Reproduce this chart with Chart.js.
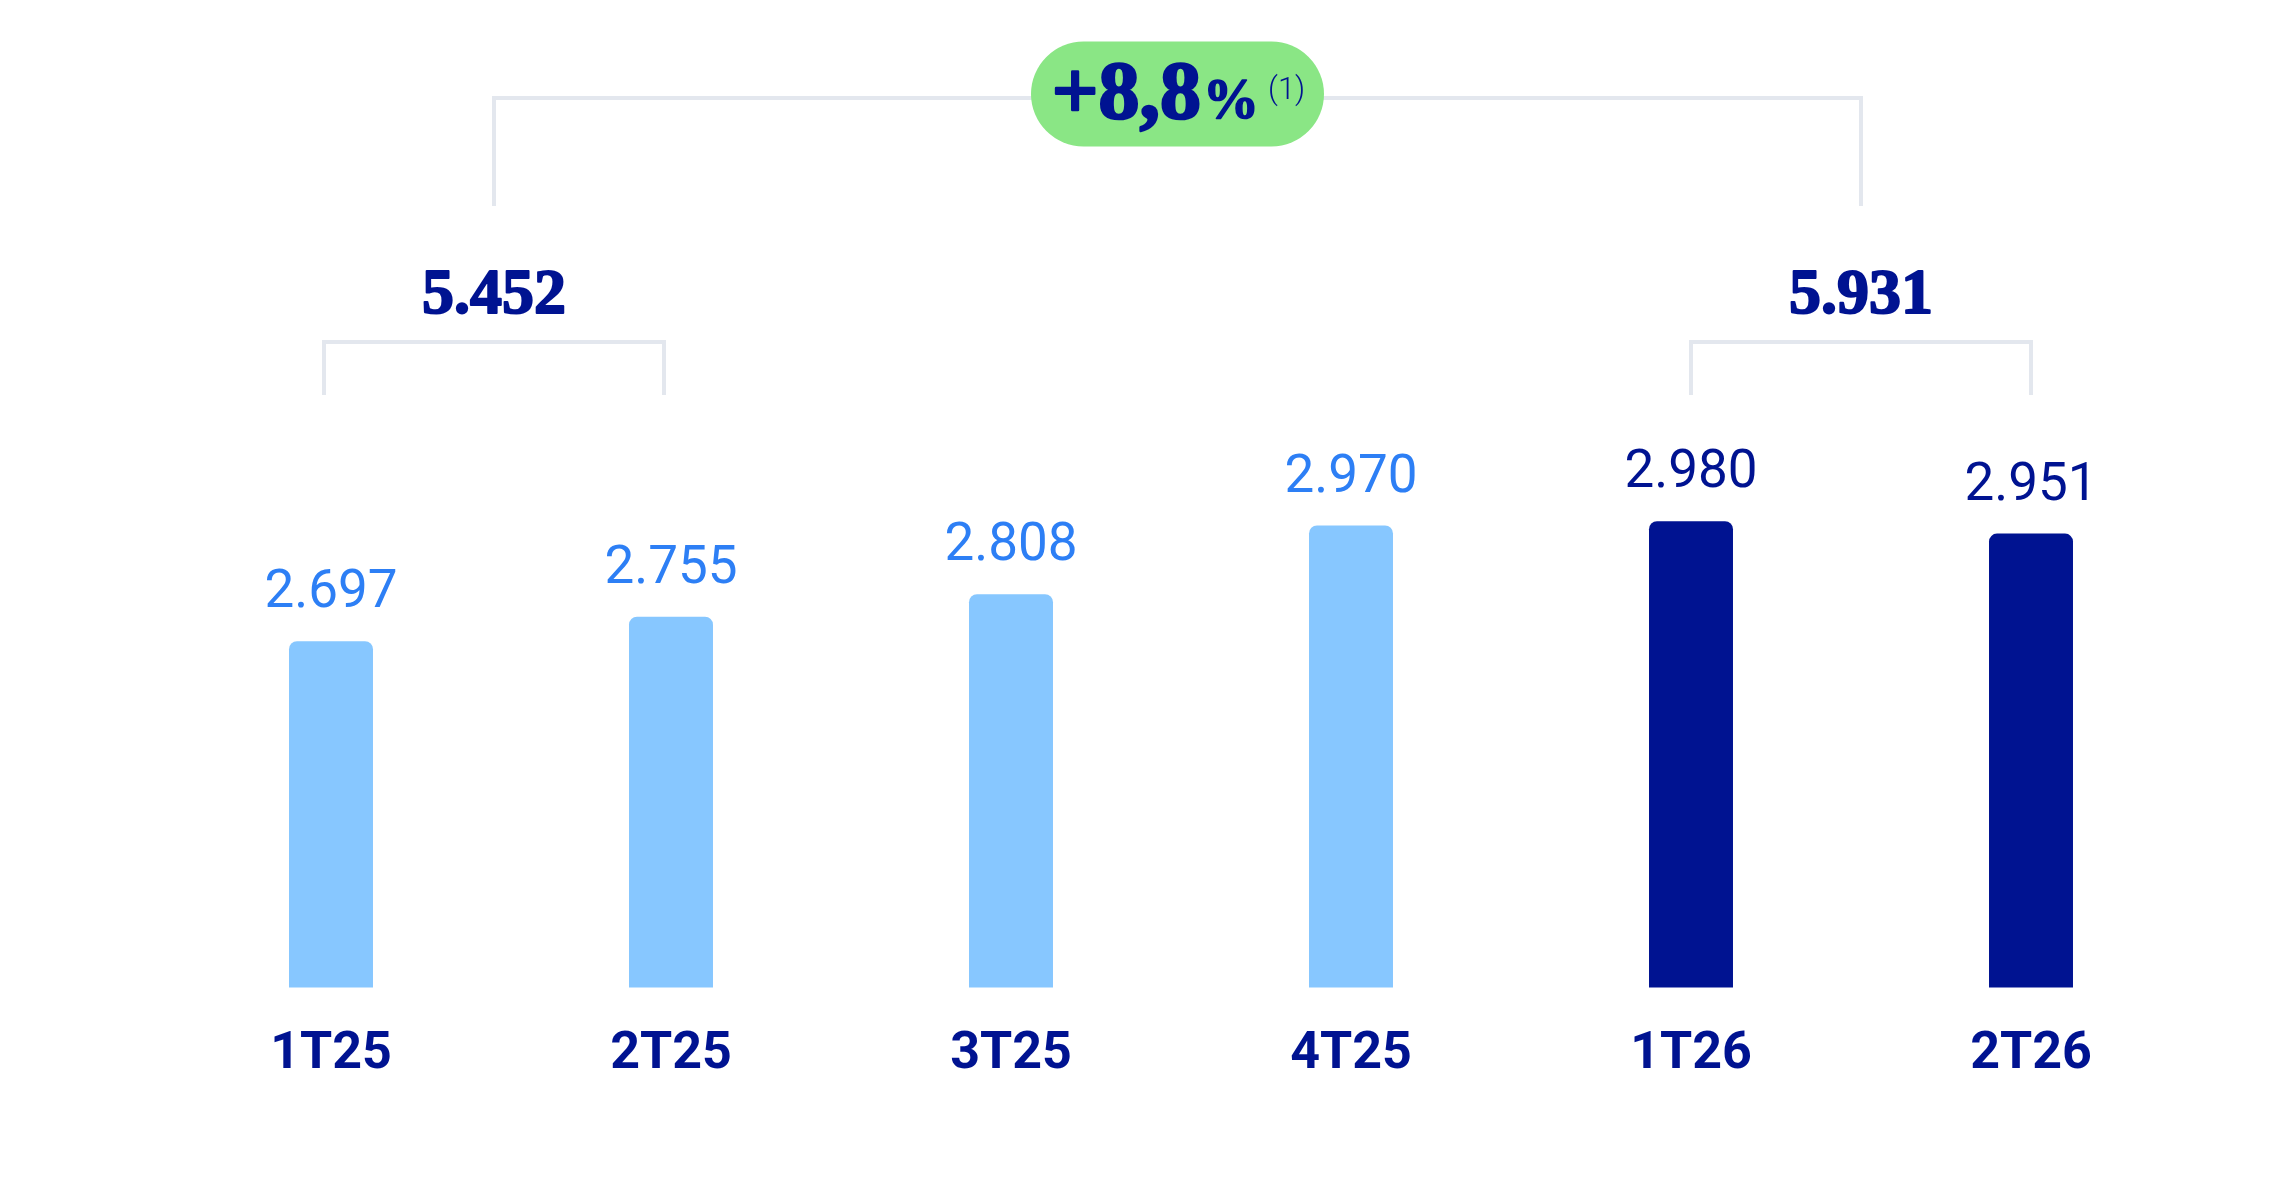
<!DOCTYPE html>
<html>
<head>
<meta charset="utf-8">
<script src="https://cdn.jsdelivr.net/npm/chart.js@4.4.1/dist/chart.umd.min.js"></script>
<style>
  html, body { margin: 0; padding: 0; background: #fff; }
  #wrap { width: 2292px; height: 1188px; }
</style>
</head>
<body>
<div id="wrap"><canvas id="chart" width="2292" height="1188"></canvas></div>
<script>
var quarters = ['1T25', '2T25', '3T25', '4T25', '1T26', '2T26'];
var margin = [2697, 2755, 2808, 2970, 2980, 2951];
var marginLabels = ['2.697', '2.755', '2.808', '2.970', '2.980', '2.951'];
var halfYearTotals = ['5.452', '5.931'];
var halfYearBars = [[0, 1], [4, 5]];
var growthText = '+8,8';
var growthNote = '(1)';

var NAVY = '#001391';
var LIGHT = '#87c7ff';
var LIGHT_TEXT = '#2d7ff5';
var GREY = '#e3e7ee';
var GREEN = '#8ae685';

// 2026 quarters in navy, 2025 in light blue
var barColors = quarters.map(function (q) {
  return q.slice(-2) === '26' ? NAVY : LIGHT;
});
var labelColors = quarters.map(function (q) {
  return q.slice(-2) === '26' ? NAVY : LIGHT_TEXT;
});

// heavy serif: fill + thin stroke in the same colour
function heavyText(ctx, txt, x, y, weight) {
  ctx.lineWidth = weight;
  ctx.strokeStyle = ctx.fillStyle;
  ctx.lineJoin = 'round';
  ctx.strokeText(txt, x, y);
  ctx.fillText(txt, x, y);
}

var annotations = {
  id: 'annotations',
  afterDatasetsDraw: function (chart) {
    var ctx = chart.ctx;
    var bars = chart.getDatasetMeta(0).data;
    ctx.save();

    // values over the bars
    ctx.textAlign = 'center';
    ctx.textBaseline = 'alphabetic';
    ctx.font = '400 53px Roboto';
    bars.forEach(function (bar, i) {
      ctx.fillStyle = labelColors[i];
      ctx.fillText(marginLabels[i], bar.x, bar.y - 34);
    });

    // half year brackets + totals
    var shift = [-7, 0];
    var mids = halfYearBars.map(function (pair, k) {
      var x1 = bars[pair[0]].x + shift[k], x2 = bars[pair[1]].x + shift[k];
      ctx.strokeStyle = GREY;
      ctx.lineWidth = 4;
      ctx.lineJoin = 'miter';
      ctx.beginPath();
      ctx.moveTo(x1, 395);
      ctx.lineTo(x1, 342);
      ctx.lineTo(x2, 342);
      ctx.lineTo(x2, 395);
      ctx.stroke();
      var mid = (x1 + x2) / 2;
      ctx.fillStyle = NAVY;
      ctx.font = 'bold 64px "Liberation Serif"';
      heavyText(ctx, halfYearTotals[k], mid, 313, 2);
      return mid;
    });

    // top bracket
    ctx.strokeStyle = GREY;
    ctx.lineWidth = 4;
    ctx.lineJoin = 'miter';
    ctx.beginPath();
    ctx.moveTo(mids[0], 206);
    ctx.lineTo(mids[0], 98);
    ctx.lineTo(mids[1], 98);
    ctx.lineTo(mids[1], 206);
    ctx.stroke();

    // growth pill
    var cx = (mids[0] + mids[1]) / 2, cy = 94, w = 293, h = 105;
    ctx.fillStyle = GREEN;
    ctx.beginPath();
    ctx.roundRect(cx - w / 2, cy - h / 2, w, h, h / 2);
    ctx.fill();

    var bigFont = 'bold 82px "Liberation Serif"';
    var pctFont = 'bold 56px "Liberation Serif"';
    var noteFont = '300 31px Roboto';
    ctx.font = bigFont; var wBig = ctx.measureText(growthText).width;
    ctx.font = pctFont; var wPct = ctx.measureText('%').width;
    ctx.font = noteFont; var wNote = ctx.measureText(growthNote).width;
    var gap = 9;
    var x = cx - (wBig + wPct + gap + wNote) / 2;
    ctx.textAlign = 'left';
    ctx.fillStyle = NAVY;
    ctx.font = bigFont;
    heavyText(ctx, growthText, x, 118, 2.5);
    x += wBig + 2;
    ctx.font = pctFont;
    heavyText(ctx, '%', x, 118, 1.5);
    x += wPct + gap;
    ctx.font = noteFont;
    ctx.fillText(growthNote, x, 99);

    ctx.restore();
  }
};

var chart = new Chart('chart', {
  type: 'bar',
  data: {
    labels: quarters,
    datasets: [{
      data: margin,
      backgroundColor: barColors,
      barPercentage: 0.247,
      categoryPercentage: 1,
      borderRadius: 8,
      borderSkipped: 'start'
    }]
  },
  options: {
    responsive: false,
    animation: false,
    layout: {padding: {top: 428, left: 161, right: 91, bottom: 66}},
    plugins: {
      legend: {display: false},
      tooltip: {enabled: false}
    },
    scales: {
      x: {
        grid: {display: false, drawTicks: false},
        border: {display: false},
        ticks: {
          color: NAVY,
          padding: 36,
          font: {family: 'Roboto', size: 52, weight: 'bold'}
        }
      },
      y: {display: false, min: 1880, max: 3200}
    }
  },
  plugins: [annotations]
});
</script>
</body>
</html>
